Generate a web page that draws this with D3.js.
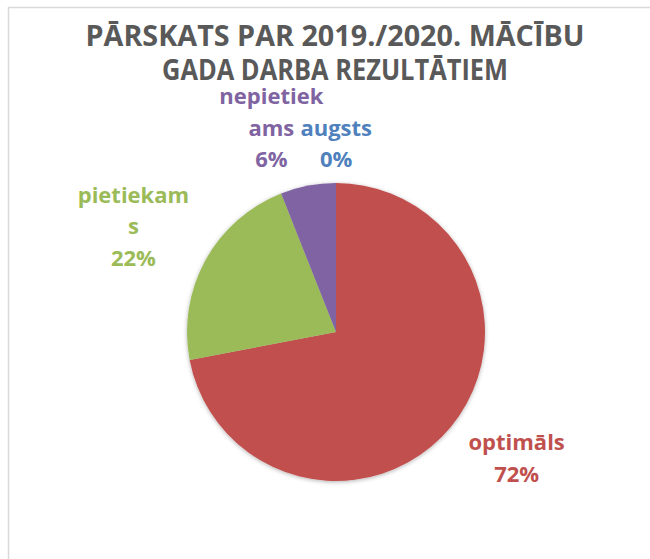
<!DOCTYPE html>
<html>
<head>
<meta charset="utf-8">
<script src="https://cdn.jsdelivr.net/npm/d3@7"></script>
<style>
  body { margin: 0; background: #fff; }
  text { font-family: "Open Sans", sans-serif; font-weight: bold; }
</style>
</head>
<body>
<div id="chart"></div>
<script>
// data
const categories = ["augsts", "optimāls", "pietiekams", "nepietiekams"];
const values = [0, 72, 22, 6];
const labelLines = [["augsts"], ["optimāls"], ["pietiekam", "s"], ["nepietiek", "ams"]];
const percentLabels = ["0%", "72%", "22%", "6%"];
const titleLines = ["PĀRSKATS PAR 2019./2020. MĀCĪBU", "GADA DARBA REZULTĀTIEM"];

const colors = ["#4F81BD", "#C0504D", "#9BBB59", "#8064A2"];
// small label nudges for the crowded slices (like Excel's best fit)
const nudge = {augsts: [12, 44], nepietiekams: [-11, 22]};

const width = 650, height = 559;
const cx = 336, cy = 332, radius = 149, labelRadius = 225, lineH = 31.5;
const labelTurn = -3 * Math.PI / 180;

const svg = d3.select("#chart").append("svg")
    .attr("width", width)
    .attr("height", height);

// chart frame (only top and left edges visible)
svg.append("path")
    .attr("d", `M8.5,${height} V7.5 H${width}`)
    .attr("fill", "none")
    .attr("stroke", "#d9d9d9")
    .attr("stroke-width", 1.5);

const defs = svg.append("defs");
const f = defs.append("filter").attr("id", "shadow")
    .attr("x", "-20%").attr("y", "-20%").attr("width", "140%").attr("height", "140%");
f.append("feDropShadow")
    .attr("dx", 0).attr("dy", 1)
    .attr("stdDeviation", 2)
    .attr("flood-color", "#000")
    .attr("flood-opacity", 0.3);

// title
const titleWidths = [499, 346];
svg.selectAll(".title")
  .data(titleLines)
  .enter().append("text")
    .attr("class", "title")
    .attr("x", 335)
    .attr("y", (d, i) => 46 + i * 34)
    .attr("text-anchor", "middle")
    .attr("font-size", 28)
    .attr("fill", "#595959")
    .attr("textLength", (d, i) => titleWidths[i])
    .attr("lengthAdjust", "spacingAndGlyphs")
    .text(d => d);

const data = categories.map((c, i) => ({cat: c, value: values[i], lines: labelLines[i], pct: percentLabels[i], color: colors[i]}));

const pie = d3.pie().sort(null).value(d => d.value);
const arcs = pie(data);
const arc = d3.arc().innerRadius(0).outerRadius(radius);

const g = svg.append("g").attr("transform", `translate(${cx},${cy})`);

g.append("g")
    .attr("filter", "url(#shadow)")
  .selectAll("path")
  .data(arcs)
  .enter().append("path")
    .attr("d", arc)
    .attr("fill", d => d.data.color);

// labels
arcs.forEach(a => {
  const mid = (a.startAngle + a.endAngle) / 2 + labelTurn;
  let x = labelRadius * Math.sin(mid);
  let y = -labelRadius * Math.cos(mid);
  const n = nudge[a.data.cat];
  if (n) { x += n[0]; y += n[1]; }
  const lines = a.data.lines.concat([a.data.pct]);
  const t = g.append("text")
      .attr("text-anchor", "middle")
      .attr("font-size", 22)
      .attr("fill", a.data.color);
  lines.forEach((ln, i) => {
    t.append("tspan")
      .attr("x", x)
      .attr("y", y - (lines.length - 1) * lineH / 2 + i * lineH)
      .text(ln);
  });
});
</script>
</body>
</html>
